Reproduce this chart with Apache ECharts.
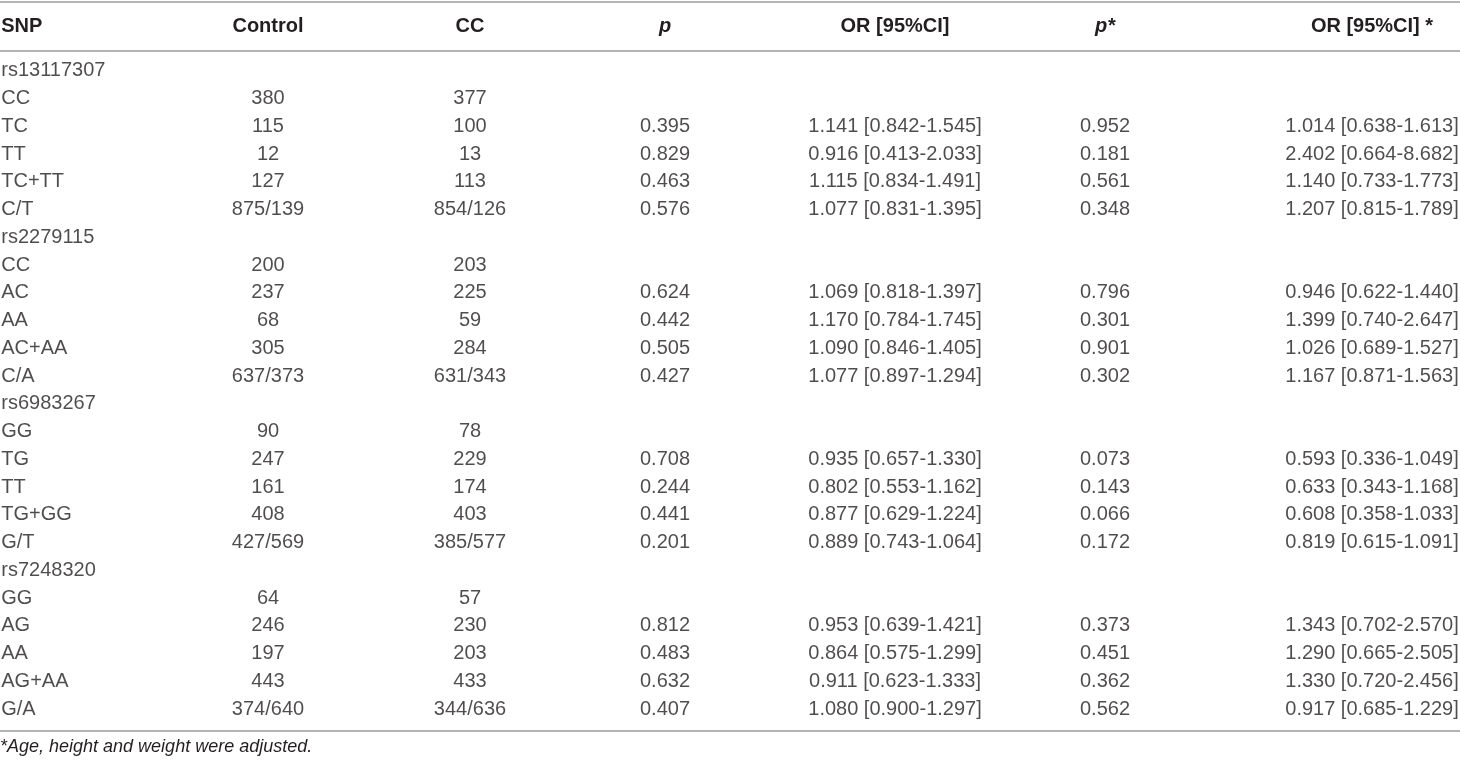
<!DOCTYPE html>
<html><head><meta charset="utf-8">
<script src="https://cdn.jsdelivr.net/npm/echarts@6/dist/echarts.min.js"></script>
<style>html,body{margin:0;padding:0;background:#fff}#c{width:1460px;height:763px}</style>
</head><body><div id="c"></div>
<script>
const headers = ['SNP', 'Control', 'CC', 'p', 'OR [95%CI]', 'p*', 'OR [95%CI] *'];
const snpRows = ['rs13117307','CC','TC','TT','TC+TT','C/T',
  'rs2279115','CC','AC','AA','AC+AA','C/A',
  'rs6983267','GG','TG','TT','TG+GG','G/T',
  'rs7248320','GG','AG','AA','AG+AA','G/A'];
const controlCol = ['','380','115','12','127','875/139',
  '','200','237','68','305','637/373',
  '','90','247','161','408','427/569',
  '','64','246','197','443','374/640'];
const ccCol = ['','377','100','13','113','854/126',
  '','203','225','59','284','631/343',
  '','78','229','174','403','385/577',
  '','57','230','203','433','344/636'];
const pCol = ['','','0.395','0.829','0.463','0.576',
  '','','0.624','0.442','0.505','0.427',
  '','','0.708','0.244','0.441','0.201',
  '','','0.812','0.483','0.632','0.407'];
const orCol = ['','','1.141 [0.842-1.545]','0.916 [0.413-2.033]','1.115 [0.834-1.491]','1.077 [0.831-1.395]',
  '','','1.069 [0.818-1.397]','1.170 [0.784-1.745]','1.090 [0.846-1.405]','1.077 [0.897-1.294]',
  '','','0.935 [0.657-1.330]','0.802 [0.553-1.162]','0.877 [0.629-1.224]','0.889 [0.743-1.064]',
  '','','0.953 [0.639-1.421]','0.864 [0.575-1.299]','0.911 [0.623-1.333]','1.080 [0.900-1.297]'];
const pAdjCol = ['','','0.952','0.181','0.561','0.348',
  '','','0.796','0.301','0.901','0.302',
  '','','0.073','0.143','0.066','0.172',
  '','','0.373','0.451','0.362','0.562'];
const orAdjCol = ['','','1.014 [0.638-1.613]','2.402 [0.664-8.682]','1.140 [0.733-1.773]','1.207 [0.815-1.789]',
  '','','0.946 [0.622-1.440]','1.399 [0.740-2.647]','1.026 [0.689-1.527]','1.167 [0.871-1.563]',
  '','','0.593 [0.336-1.049]','0.633 [0.343-1.168]','0.608 [0.358-1.033]','0.819 [0.615-1.091]',
  '','','1.343 [0.702-2.570]','1.290 [0.665-2.505]','1.330 [0.720-2.456]','0.917 [0.685-1.229]'];
const footnote = '*Age, height and weight were adjusted.';

const columns = [snpRows, controlCol, ccCol, pCol, orCol, pAdjCol, orAdjCol];
// layout (column centre in px; first column is left aligned)
const colCentre = [0, 268, 470, 665, 895, 1105, 1372];
const FONT = '"Liberation Sans", Arial, Helvetica, sans-serif';
const TXT = '#231f20';
const gridTop = 57, gridH = 666;

const rowKeys = snpRows.map((_, k) => 'r' + k);
const grids = [], xAxes = [], yAxes = [], series = [];
columns.forEach((col, i) => {
  const left = i === 0 ? -1 : colCentre[i] - 60;
  const width = i === 0 ? 2 : 120;
  grids.push({left: left, width: width, top: gridTop, height: gridH, containLabel: false});
  const italic = headers[i].startsWith('p');
  xAxes.push({
    gridIndex: i, type: 'category', position: 'top', data: [headers[i]],
    axisLine: {show: false}, axisTick: {show: false}, splitLine: {show: false},
    axisLabel: {
      show: true, margin: 21, fontSize: 20, fontWeight: 'bold', fontFamily: FONT, color: TXT,
      fontStyle: italic ? 'italic' : 'normal', align: i === 0 ? 'left' : 'center', interval: 0
    }
  });
  yAxes.push({gridIndex: i, type: 'category', inverse: true, data: rowKeys, show: false});
  const data = [];
  col.forEach((v, k) => { if (v !== '') data.push([0, k, v]); });
  series.push({
    type: 'scatter', xAxisIndex: i, yAxisIndex: i, data: data,
    symbolSize: 1, itemStyle: {color: 'rgba(0,0,0,0)'}, silent: true,
    label: {
      show: true, position: 'inside', align: i === 0 ? 'left' : 'center', verticalAlign: 'middle',
      fontSize: 20, fontFamily: FONT, color: TXT,
      formatter: p => p.value[2]
    }
  });
});

const lineStyle = {stroke: '#b4b4b4', lineWidth: 2};
const chart = echarts.init(document.getElementById('c'), null, {renderer: 'canvas'});
chart.setOption({
  animation: false,
  backgroundColor: '#fff',
  title: {
    text: footnote, left: -5, top: 733,
    textStyle: {fontSize: 18, fontStyle: 'italic', fontWeight: 'normal', fontFamily: FONT, color: TXT}
  },
  grid: grids, xAxis: xAxes, yAxis: yAxes, series: series,
  graphic: [
    {type: 'line', shape: {x1: 0, y1: 2, x2: 1460, y2: 2}, style: lineStyle, silent: true},
    {type: 'line', shape: {x1: 0, y1: 51, x2: 1460, y2: 51}, style: lineStyle, silent: true},
    {type: 'line', shape: {x1: 0, y1: 731, x2: 1460, y2: 731}, style: lineStyle, silent: true}
  ]
});
</script></body></html>
